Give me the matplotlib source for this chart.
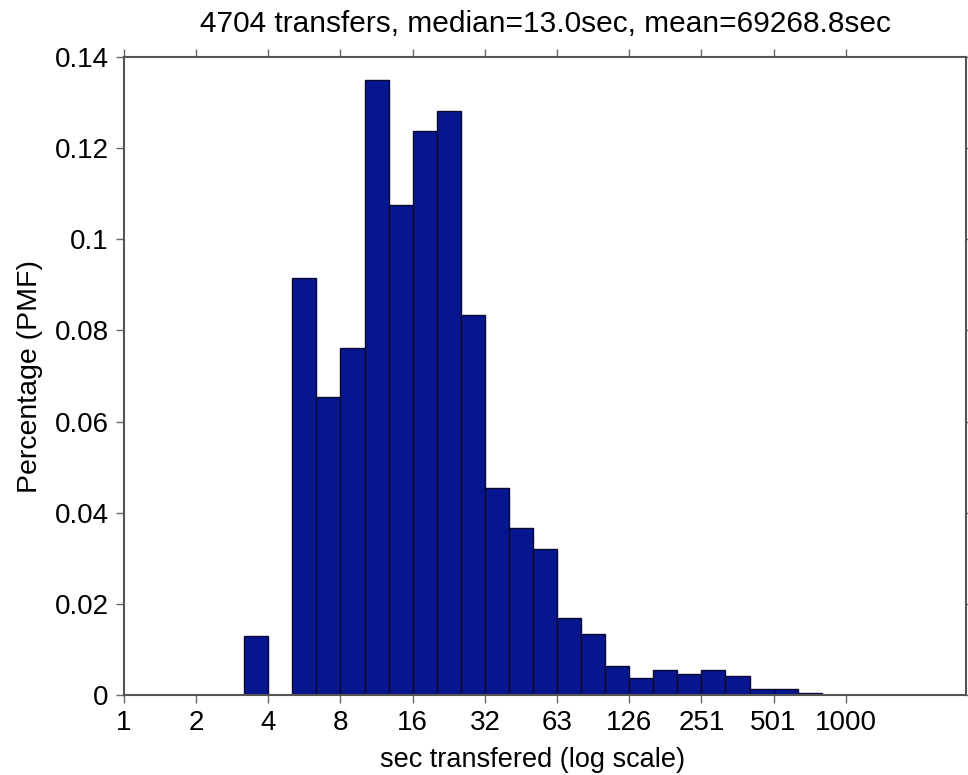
import numpy as np
import matplotlib
matplotlib.use("Agg")
import matplotlib.pyplot as plt

plt.rcParams['font.family'] = ['Liberation Sans', 'DejaVu Sans']

# bins in log10 space, each 0.1 decade wide, starting at 10^0
bin_index = list(range(0, 32))
pmf = [0, 0, 0, 0, 0,
       0.0130, 0, 0.0916, 0.0653, 0.0762,
       0.1350, 0.1075, 0.1238, 0.1282, 0.0834,
       0.0454, 0.0366, 0.0320, 0.0169, 0.0134,
       0.0064, 0.0038, 0.0055, 0.0046, 0.0054,
       0.0042, 0.0013, 0.0013, 0.0005, 0.0001,
       0, 0]
bin_step = 0.1

xtick_pos_log10 = [0, 0.3, 0.6, 0.9, 1.2, 1.5, 1.8, 2.1, 2.4, 2.7, 3.0]
xtick_labels = ['1', '2', '4', '8', '16', '32', '63', '126', '251', '501', '1000']
ytick_vals = [0, 0.02, 0.04, 0.06, 0.08, 0.1, 0.12, 0.14]
ytick_labels = ['0', '0.02', '0.04', '0.06', '0.08', '0.1', '0.12', '0.14']

title = '4704 transfers, median=13.0sec, mean=69268.8sec'

fig = plt.figure(figsize=(9.68, 7.75), dpi=100)
ax = fig.add_axes([0.128, 0.1032, 0.870, 0.8232])

left = np.array([10 ** (k * bin_step) for k in bin_index])
right = np.array([10 ** ((k + 1) * bin_step) for k in bin_index])
ax.bar(left, pmf, width=right - left, align='edge', color='#06168f',
       edgecolor='#0a0a30', linewidth=1.0)

ax.set_xscale('log')
ax.set_xlim(1, 10 ** 3.5)
ax.set_ylim(0, 0.14)
ax.set_xticks([10 ** p for p in xtick_pos_log10])
ax.set_xticklabels(xtick_labels)
ax.xaxis.set_minor_locator(matplotlib.ticker.NullLocator())
ax.set_yticks(ytick_vals)
ax.set_yticklabels(ytick_labels)

for s in ax.spines.values():
    s.set_color('#555555')
    s.set_linewidth(1.5)

ax.tick_params(axis='both', which='major', direction='out', length=6,
               width=1, color='#666666', labelsize=20, pad=5)
ax.tick_params(axis='x', top=True, labeltop=False)
ax.tick_params(axis='y', right=True, labelright=False)

ax.set_title(title, fontsize=21.5, pad=18)
ax.set_xlabel('sec transfered (log scale)', fontsize=19.5)
ax.xaxis.set_label_coords(0.485, -0.081)
ax.set_ylabel('Percentage (PMF)', fontsize=20.5, labelpad=8)

fig.savefig('out.png', dpi=100)
